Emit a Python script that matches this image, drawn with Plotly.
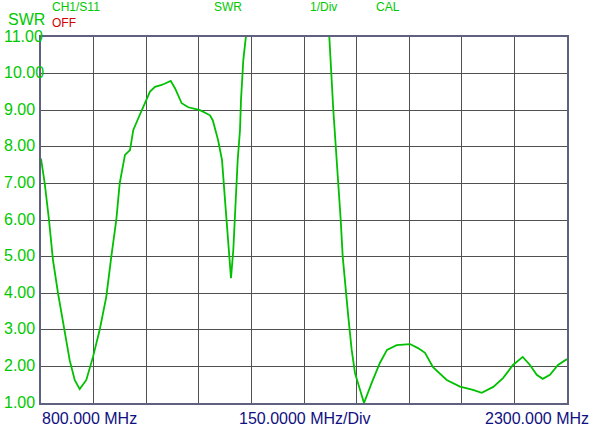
import plotly.graph_objects as go

# ---- data ----
freq_mhz = [800, 810.6, 822.8, 834.2, 848.5, 865.6, 881.8, 896.1, 910.4, 929.2,
            948.3, 967.4, 986.2, 1000.5, 1014.7, 1024.4, 1031.8, 1039.5, 1053.8, 1063.2,
            1077.5, 1091.7, 1110.8, 1125.1, 1144.2, 1158.5, 1169.9, 1182.1, 1201.2, 1220.1,
            1253.4, 1282.0, 1290.0, 1304.8, 1316.2, 1324.7, 1333.3, 1337.5, 1341.8, 1348.4,
            1355.2, 1360.9, 1367.5, 1370.3, 1376.9, 1384.6, 1390.0,
            1616.0, 1622.2, 1633.6, 1641.3, 1647.8, 1654.7, 1660.4, 1666.9, 1676.3, 1686.0,
            1695.4, 1709.7, 1721.1, 1743.0, 1766.7, 1786.7, 1814.3, 1852.3, 1875.1, 1895.1,
            1917.9, 1956.9, 1994.9, 2032.0, 2056.7, 2089.8, 2117.5, 2146.0, 2173.7, 2194.5,
            2213.6, 2230.7, 2251.5, 2274.3, 2300.0]
swr_values = [7.68, 7.0, 6.0, 4.9, 4.0, 3.0, 2.17, 1.63, 1.38, 1.63,
              2.26, 3.0, 3.9, 5.0, 6.0, 7.0, 7.37, 7.78, 7.91, 8.46,
              8.78, 9.1, 9.51, 9.64, 9.69, 9.75, 9.8, 9.6, 9.19, 9.08,
              9.0, 8.86, 8.72, 8.19, 7.64, 6.55, 5.45, 4.9, 4.41, 5.18,
              6.55, 7.64, 8.46, 9.28, 10.37, 11.0, 11.5,
              11.5, 11.0, 9.0, 8.0, 7.0, 6.0, 5.0, 4.28, 3.36, 2.45,
              1.82, 1.36, 1.0, 1.55, 2.1, 2.45, 2.58, 2.61, 2.5, 2.37,
              1.98, 1.63, 1.45, 1.36, 1.28, 1.44, 1.68, 2.04, 2.26, 2.04,
              1.77, 1.66, 1.77, 2.04, 2.2]

swr_ticks = [1, 2, 3, 4, 5, 6, 7, 8, 9, 10, 11]
start_label = "800.000 MHz"
span_label = "150.0000 MHz/Div"
stop_label = "2300.000 MHz"

GREEN_TXT = "#00c800"
GREEN_LINE = "#00c000"
NAVY = "#101080"
RED = "#d00000"
FONT = "Liberation Sans, Arial, sans-serif"

L, R, T, B = 41, 32, 37, 25
W, H = 599, 428
PW, PH = W - L - R, H - T - B

def px(xp):
    return (xp - L) / PW

def py(yp):
    return (H - B - yp) / PH

fig = go.Figure()
fig.add_trace(go.Scatter(x=freq_mhz, y=swr_values, mode="lines",
                         line=dict(color=GREEN_LINE, width=1.8),
                         hoverinfo="skip", showlegend=False))

fig.update_layout(
    width=W, height=H, autosize=False,
    margin=dict(l=L, r=R, t=T, b=B, pad=0),
    paper_bgcolor="white", plot_bgcolor="white",
    font=dict(family=FONT),
    xaxis=dict(range=[800, 2300], tick0=800, dtick=150, showticklabels=False,
               showgrid=True, gridcolor="#505050", gridwidth=1, zeroline=False,
               showline=True, linecolor="#60607f", linewidth=2, mirror=True, ticks=""),
    yaxis=dict(range=[1, 11], tick0=1, dtick=1, showticklabels=False,
               showgrid=True, gridcolor="#505050", gridwidth=1, zeroline=False,
               showline=True, linecolor="#60607f", linewidth=2, mirror=True, ticks=""),
)

ann = []
for v in swr_ticks:
    ann.append(dict(x=px(2), xref="paper", y=v, yref="y", text=f"{v:.2f}",
                    xanchor="left", yanchor="middle", yshift=1, showarrow=False,
                    font=dict(size=16, color=GREEN_TXT, family=FONT)))

def label(text, xp, yp, size, color, anchor="left"):
    ann.append(dict(x=px(xp), xref="paper", y=py(yp), yref="paper", text=text,
                    xanchor=anchor, yanchor="middle", showarrow=False, borderpad=0,
                    font=dict(size=size, color=color, family=FONT)))

label("SWR", 7, 19.5, 16, GREEN_TXT)
label("CH1/S11", 51, 7, 12, GREEN_TXT)
label("OFF", 51, 23, 12, RED)
label("SWR", 213, 7, 12, GREEN_TXT)
label("1/Div", 309, 7, 12, GREEN_TXT)
label("CAL", 375, 7, 12, GREEN_TXT)
label(start_label, 41, 418.5, 16, NAVY)
label(span_label, 238, 418.5, 16, NAVY)
label(stop_label, 590, 418.5, 16, NAVY, anchor="right")

fig.update_layout(annotations=ann)
fig.write_html("out.html")
